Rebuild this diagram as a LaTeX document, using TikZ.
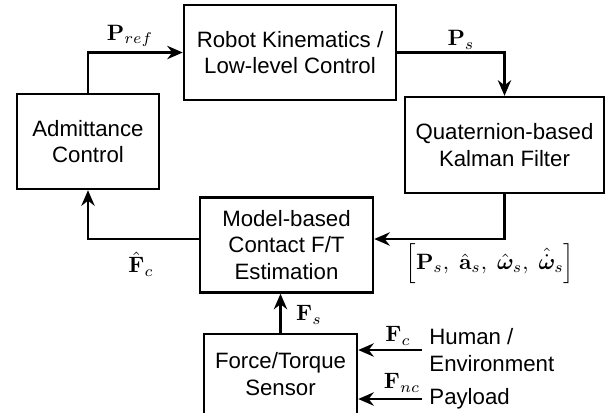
\documentclass[tikz,border=0pt]{standalone}
\usepackage{amsmath, amssymb}
\usepackage{bm}
\usepackage[no-math]{fontspec}
\setmainfont{Liberation Sans}
\usetikzlibrary{arrows.meta}

\newcommand{\pxu}{0.45pt}

\begin{document}
\begin{tikzpicture}[x=\pxu, y=-\pxu,
    blk/.style={draw, line width=1.1pt, align=center, inner sep=0pt},
    arr/.style={line width=1.1pt, -{Stealth[length=7pt, width=6pt]}}]
  \useasboundingbox (0,0) rectangle (613,412);
  % blocks
  \node[blk, minimum width=142*\pxu, minimum height=95*\pxu] (adm) at (88,141.5) {Admittance\\Control};
  \node[blk, minimum width=212*\pxu, minimum height=95*\pxu] (robot) at (290,52.5) {Robot Kinematics /\\Low-level Control};
  \node[blk, minimum width=199*\pxu, minimum height=96*\pxu] (kf) at (504.5,145) {Quaternion-based\\Kalman Filter};
  \node[blk, minimum width=173*\pxu, minimum height=95*\pxu] (est) at (286.5,245) {Model-based\\Contact F/T\\Estimation};
  \node[blk, minimum width=153*\pxu, minimum height=80*\pxu] (ft) at (280.5,374) {Force/Torque\\Sensor};
  \node[align=left, inner sep=0pt, anchor=west] (hum) at (429,350) {Human /\\Environment};
  \node[inner sep=0pt, anchor=west] (pay) at (429,399) {Payload};

  % connectors
  \draw[arr] (adm.north) |- (robot.west);
  \draw[arr] (robot.east) -| (kf.north);
  \draw[arr] (kf.south) |- ([yshift=2.7pt]est.east);
  \draw[arr] ([yshift=2.7pt]est.west) -| (adm.south);
  \draw[arr] (ft.north) -- (ft.north |- est.south);
  \draw[arr] ([xshift=-3pt]hum.west) -- (hum.west -| ft.east);
  \draw[arr] ([xshift=-3pt]pay.west) -- (pay.west -| ft.east);

  % labels
  \node (pref) at (130,36) {$\mathbf{P}_{ref}$};
  \node (ps) at (461,40) {$\mathbf{P}_{s}$};
  \node (fchat) at (141,264) {$\hat{\mathbf{F}}_{c}$};
  \node (states) at (490,264) {$\left[\mathbf{P}_{s},\ \hat{\mathbf{a}}_{s},\ \hat{\bm{\omega}}_{s},\ \hat{\dot{\bm{\omega}}}_{s}\right]$};
  \node (fs) at (309,315) {$\mathbf{F}_{s}$};
  \node (fc) at (398,336) {$\mathbf{F}_{c}$};
  \node (fnc) at (402,383) {$\mathbf{F}_{nc}$};
\end{tikzpicture}
\end{document}
